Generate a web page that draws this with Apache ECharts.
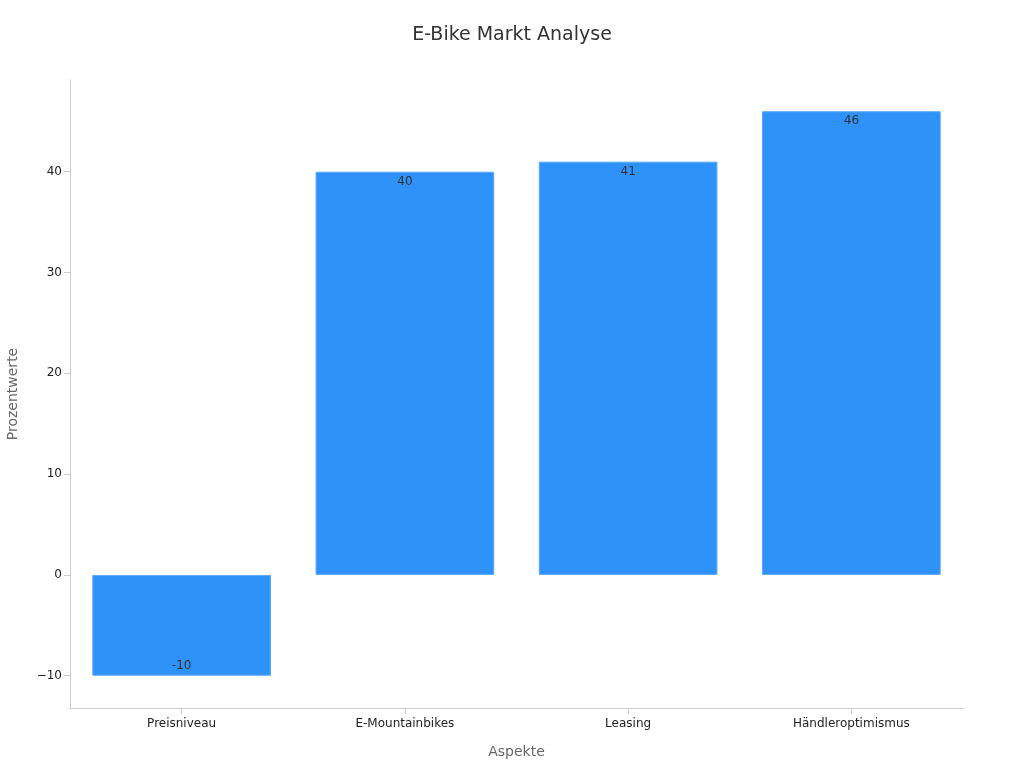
<!DOCTYPE html>
<html><head><meta charset="utf-8">
<script src="https://cdn.jsdelivr.net/npm/echarts@6/dist/echarts.min.js"></script>
<style>html,body{margin:0;padding:0}#c{width:1024px;height:768px}</style>
</head><body><div id="c"></div>
<script>
const categories = ['Preisniveau','E-Mountainbikes','Leasing','Händleroptimismus'];
const values = [-10, 40, 41, 46];
const chart = echarts.init(document.getElementById('c'));
chart.setOption({
  textStyle:{fontFamily:'DejaVu Sans'},
  title:{text:'E-Bike Markt Analyse',left:'center',top:21,textStyle:{fontSize:19,fontWeight:'normal',color:'#333'}},
  grid:{left:70,right:61,top:80,bottom:60,containLabel:false,outerBoundsMode:'none'},
  xAxis:{type:'category',data:categories,name:'Aspekte',nameLocation:'middle',nameGap:37,
    nameTextStyle:{fontSize:14,color:'#666'},
    axisLine:{onZero:false,lineStyle:{color:'#ccc'}},axisTick:{show:true,alignWithLabel:true,length:6,lineStyle:{color:'#ccc'}},
    axisLabel:{color:'#222',fontSize:12,margin:10}},
  yAxis:{type:'value',min:-13.2,max:49.1,name:'Prozentwerte',nameLocation:'middle',nameGap:50,
    nameTextStyle:{fontSize:14,color:'#666'},
    splitLine:{show:false},axisLine:{show:true,lineStyle:{color:'#ccc'}},axisTick:{show:true,length:6,lineStyle:{color:'#ccc'}},
    axisLabel:{color:'#222',fontSize:12,showMinLabel:false,showMaxLabel:false,formatter:v=>String(v).replace('-','\u2212')}},
  series:[{type:'bar',barWidth:'80%',
    data:values.map(v=>({value:v,label:{position:v<0?'insideBottom':'insideTop'}})),
    itemStyle:{color:'#2f92f8',borderColor:'#5aa8f8',borderWidth:1},
    label:{show:true,color:'#333',fontSize:12,distance:4}}]
});
</script></body></html>
